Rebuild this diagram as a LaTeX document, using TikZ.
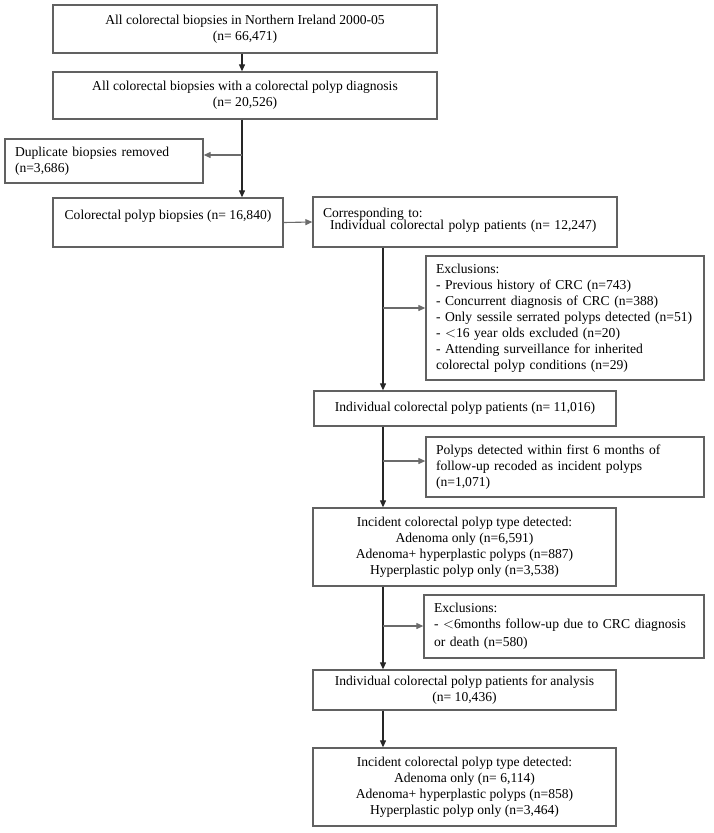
\documentclass[tikz,border=0pt]{standalone}
\usepackage{fontspec}
\setmainfont{Liberation Serif}
\usepackage{tikz}
\usetikzlibrary{arrows.meta}
\usetikzlibrary{calc}
\definecolor{boxgray}{gray}{0.38}
\definecolor{linkgray}{gray}{0.42}
\tikzset{
	>={Triangle[length=7pt,width=6pt]},
	flowbox/.style={draw=boxgray, line width=1.3pt, fill=white, align=center,
		inner sep=0pt, font=\fontsize{13.6}{16}\selectfont},
	notebox/.style={flowbox, align=left, inner xsep=10pt},
	spine/.style={draw=black!85, line width=1.1pt, ->},
	branch/.style={draw=linkgray, line width=1.1pt, ->},
}

\begin{document}
\begin{tikzpicture}[x=1pt, y=-1pt]
	\useasboundingbox (0,0) rectangle (714,833);
	%% biopsies
	\node[flowbox, minimum width=384pt, minimum height=48pt] (all) at (245,29)
		{All colorectal biopsies in Northern Ireland 2000-05\\(n= 66,471)};
	\node[flowbox, minimum width=384pt, minimum height=47pt] (diag) at (245,95.5)
		{All colorectal biopsies with a colorectal polyp diagnosis\\(n= 20,526)};
	\node[notebox, text width=178pt, minimum height=44pt] (dup) at (104,161)
		{Duplicate biopsies removed\\(n=3,686)};
	\node[flowbox, minimum width=230pt, minimum height=49pt] (biop) at (168,222.5)
		{Colorectal polyp biopsies (n= 16,840)\\\mbox{}};
	%% patients
	\node[notebox, text width=284pt, minimum height=50pt] (corr) at (465,222)
		{Corresponding to:\\[-4pt]\hspace*{7pt}Individual colorectal polyp patients (n= 12,247)\\[-10pt]\mbox{}};
	\node[notebox, text width=258pt, minimum height=124pt] (excl) at (565,318)
		{Exclusions:\\
		- Previous history of CRC (n=743)\\
		- Concurrent diagnosis of CRC (n=388)\\
		- Only sessile serrated polyps detected (n=51)\\
		- $<$16 year olds excluded (n=20)\\
		- Attending surveillance for inherited\\
		colorectal polyp conditions (n=29)};
	\node[flowbox, minimum width=302pt, minimum height=35pt] (indiv) at (465,408.5)
		{Individual colorectal polyp patients (n= 11,016)};
	\node[notebox, text width=258pt, minimum height=60pt] (early) at (565,467)
		{Polyps detected within first 6 months of\\
		follow-up recoded as incident polyps\\
		(n=1,071)};
	\node[flowbox, minimum width=303pt, minimum height=78pt] (inca) at (464.5,547)
		{Incident colorectal polyp type detected:\\
		Adenoma only (n=6,591)\\
		Adenoma+ hyperplastic polyps (n=887)\\
		Hyperplastic polyp only (n=3,538)};
	\node[notebox, text width=260pt, minimum height=63pt] (excltwo) at (564,626.5)
		{Exclusions:\\
		- $<$6months follow-up due to CRC diagnosis\\[2pt]
		or death (n=580)};
	\node[flowbox, minimum width=303pt, minimum height=40pt] (analysis) at (464.5,690)
		{Individual colorectal polyp patients for analysis\\(n= 10,436)};
	\node[flowbox, minimum width=303pt, minimum height=78pt] (incb) at (464.5,787)
		{Incident colorectal polyp type detected:\\
		Adenoma only (n= 6,114)\\
		Adenoma+ hyperplastic polyps (n=858)\\
		Hyperplastic polyp only (n=3,464)};

	%% connectors
	\coordinate (dupfork) at (242,155);
	\draw[spine] (all.south -| dupfork) -- (diag.north -| dupfork);
	\draw[spine] (diag.south -| dupfork) -- (biop.north -| dupfork);
	\draw[branch] (dupfork) -- (dupfork -| dup.east);
	\draw[branch] (biop.east) -- (corr.west);
	\coordinate (exfork) at (383,308);
	\draw[spine] (corr.south -| exfork) -- (indiv.north -| exfork);
	\draw[branch] (exfork) -- (exfork -| excl.west);
	\coordinate (recfork) at (383,461);
	\draw[spine] (indiv.south -| recfork) -- (inca.north -| recfork);
	\draw[branch] (recfork) -- (recfork -| early.west);
	\coordinate (fufork) at (383,626);
	\draw[spine] (inca.south -| fufork) -- (analysis.north -| fufork);
	\draw[branch] (fufork) -- (fufork -| excltwo.west);
	\draw[spine] (analysis.south -| fufork) -- (incb.north -| fufork);
\end{tikzpicture}
\end{document}
